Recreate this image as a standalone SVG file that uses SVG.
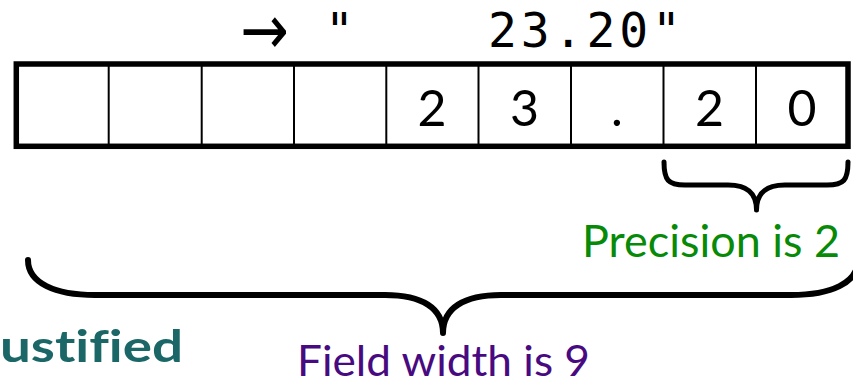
<svg xmlns="http://www.w3.org/2000/svg" width="853" height="383" viewBox="0 0 853 383">
<style>
.mono{font-family:"DejaVu Sans Mono","Liberation Mono",monospace;font-size:48px;fill:#000}
.cell{font-family:Lato,"Open Sans","Liberation Sans",sans-serif;font-size:50px;fill:#000;text-anchor:middle}
.div{stroke:#000;stroke-width:2;fill:none}
.brace{stroke:#000;fill:none;stroke-linecap:round;stroke-linejoin:round}
.lbl{font-family:Lato,"Open Sans","Liberation Sans",sans-serif;font-variant-ligatures:none}
</style>
<rect width="853" height="383" fill="#fff"/>
<g id="output-string">
<text transform="translate(264.5,29.5) scale(1,1.2)" x="0" y="20" font-family="DejaVu Sans,sans-serif" font-size="58" text-anchor="middle">→</text>
<text class="mono" x="339.5" y="47" text-anchor="middle">"</text>
<text class="mono" x="488" y="47" textLength="193" lengthAdjust="spacing">23.20"</text>
</g>
<g id="field">
<rect x="16.3" y="64" width="831.7" height="82.3" fill="#fff" stroke="#000" stroke-width="5.5"/>
<line class="div" x1="108.7" y1="64" x2="108.7" y2="146"/>
<line class="div" x1="201.7" y1="64" x2="201.7" y2="146"/>
<line class="div" x1="294" y1="64" x2="294" y2="146"/>
<line class="div" x1="386.3" y1="64" x2="386.3" y2="146"/>
<line class="div" x1="478.5" y1="64" x2="478.5" y2="146"/>
<line class="div" x1="571" y1="64" x2="571" y2="146"/>
<line class="div" x1="663.5" y1="64" x2="663.5" y2="146"/>
<line class="div" x1="756" y1="64" x2="756" y2="146"/>
<text class="cell" x="432" y="126">2</text>
<text class="cell" x="524.5" y="126">3</text>
<text class="cell" x="617" y="126">.</text>
<text class="cell" x="709.5" y="126">2</text>
<text class="cell" x="802" y="126">0</text>
</g>
<g id="connectors">
<path class="brace" stroke-width="5" d="M664,162 C664,180 668,185 685,185 L728,185 C746,185 756.5,192 756.5,210 C756.5,192 767,185 785,185 L827,185 C844,185 848,180 848,162"/>
<path class="brace" stroke-width="6" d="M28,260 C28,283 55,295 95,295 L385,295 C422,295 443,308 443,333 C443,308 464,295 501,295 L791,295 C831,295 858,283 858,260"/>
</g>
<g id="precision-label">
<text class="lbl" x="582" y="257" font-size="44" fill="#078a07" textLength="258" lengthAdjust="spacingAndGlyphs">Precision is 2</text>
</g>
<g id="width-label">
<text class="lbl" x="297" y="376" font-size="42" fill="#480a80" textLength="293" lengthAdjust="spacingAndGlyphs">Field width is 9</text>
</g>
<g id="justified-label">
<text class="lbl" x="0" y="362" font-size="44" font-weight="bold" fill="#1b6767" textLength="183" lengthAdjust="spacingAndGlyphs">ustified</text>
</g>
</svg>
